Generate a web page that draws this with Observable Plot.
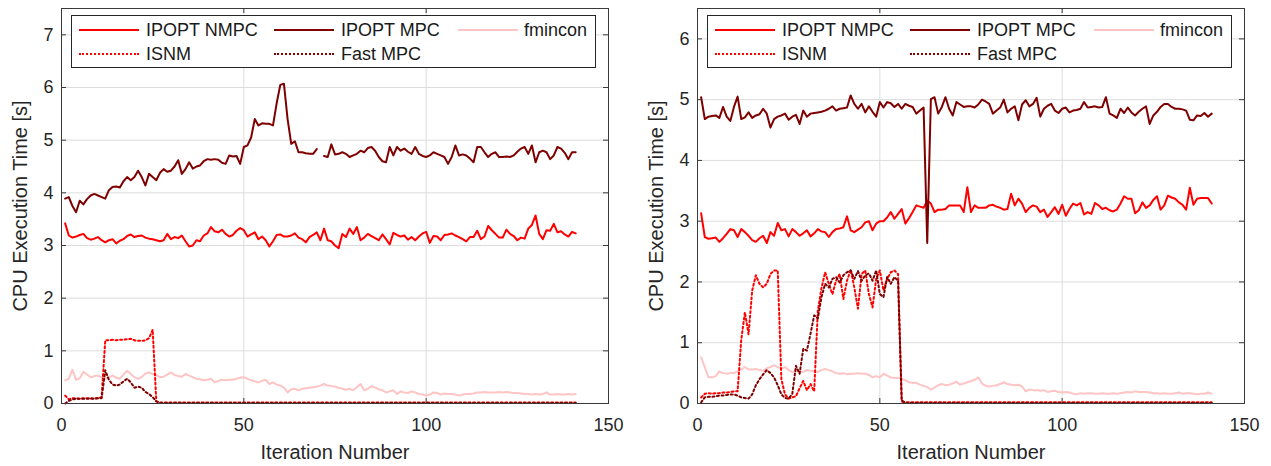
<!DOCTYPE html>
<html>
<head>
<meta charset="utf-8">
<script src="https://cdn.jsdelivr.net/npm/d3@7"></script>
<script src="https://cdn.jsdelivr.net/npm/@observablehq/plot@0.6"></script>
<style>
  body { margin: 0; background: #fff; }
  #wrap { display: flex; width: 1271px; height: 466px; }
  .panel { position: relative; height: 466px; }
  .legend { position: absolute; top: 15px; width: 525px; height: 53px; border: 1px solid #262626;
            background: #fff; box-sizing: border-box; font-family: "Liberation Sans", Arial, sans-serif;
            font-size: 18px; color: #1a1a1a; }
  .sample { position: absolute; width: 60px; height: 0; }
  .lgtext { position: absolute; line-height: 1; white-space: nowrap; transform: translateY(-50%); }
</style>
</head>
<body>
<div id="wrap"></div>
<script>
// ---------- data ----------
const seriesNames = ["IPOPT NMPC", "IPOPT MPC", "fmincon", "ISNM", "Fast MPC"];
const xTicks = [0, 50, 100, 150];
const yTicksLeft = [0, 1, 2, 3, 4, 5, 6, 7];
const yTicksRight = [0, 1, 2, 3, 4, 5, 6];
const xLabel = "Iteration Number";
const yLabel = "CPU Execution Time [s]";

const leftNMPC = [3.42,3.19,3.15,3.17,3.20,3.22,3.14,3.11,3.13,3.16,
 3.10,3.06,3.10,3.12,3.04,3.09,3.12,3.18,3.21,3.16,
 3.18,3.19,3.15,3.13,3.12,3.10,3.08,3.10,3.22,3.12,
 3.16,3.14,3.19,3.08,2.98,3.00,3.10,3.08,3.19,3.23,
 3.35,3.27,3.25,3.30,3.22,3.17,3.20,3.28,3.33,3.29,
 3.17,3.21,3.25,3.12,3.17,3.10,2.98,3.08,3.20,3.21,
 3.17,3.17,3.19,3.23,3.15,3.12,3.06,3.16,3.20,3.25,
 3.10,3.32,3.10,3.08,3.00,2.95,3.22,3.16,3.32,3.22,
 3.35,3.10,3.15,3.22,3.18,3.14,3.10,3.21,3.12,3.02,
 3.24,3.20,3.17,3.19,3.11,3.16,3.10,3.17,3.23,3.26,
 3.05,3.18,3.17,3.10,3.20,3.21,3.23,3.19,3.16,3.12,
 3.08,3.16,3.16,3.28,3.12,3.17,3.37,3.29,3.22,3.15,
 3.15,3.30,3.22,3.18,3.10,3.15,3.13,3.32,3.39,3.57,
 3.22,3.12,3.29,3.28,3.41,3.25,3.27,3.21,3.17,3.26,
 3.23];
const leftMPC = [3.89,3.92,3.75,3.63,3.85,3.78,3.88,3.95,3.98,3.95,
 3.92,3.89,4.05,4.11,4.12,4.10,4.22,4.30,4.24,4.30,
 4.42,4.30,4.14,4.36,4.30,4.24,4.38,4.45,4.40,4.42,
 4.50,4.62,4.36,4.45,4.58,4.46,4.50,4.52,4.60,4.64,
 4.63,4.64,4.63,4.57,4.55,4.71,4.69,4.70,4.55,4.87,
 4.90,5.05,5.40,5.28,5.32,5.31,5.31,5.28,5.70,6.05,
 6.07,5.40,4.93,4.98,4.77,4.77,4.75,4.74,4.74,4.83,
 null,4.70,4.68,4.92,4.73,4.74,4.77,4.74,4.68,4.71,
 4.74,4.80,4.77,4.85,4.87,4.80,4.68,4.60,4.58,4.87,
 4.71,4.87,4.80,4.84,4.78,4.74,4.87,4.74,4.70,4.68,
 4.71,4.77,4.74,4.71,4.68,4.55,4.68,4.90,4.71,4.73,
 4.71,4.65,4.58,4.87,4.87,4.77,4.68,4.74,4.77,4.68,
 4.68,4.69,4.68,4.71,4.78,4.84,4.87,4.74,4.90,4.58,
 4.77,4.80,4.77,4.64,4.71,4.87,4.84,4.76,4.64,4.77,
 4.77];
const leftFmincon = [0.44,0.47,0.64,0.45,0.48,0.60,0.55,0.50,0.52,0.53,
 0.50,0.47,0.50,0.53,0.49,0.47,0.55,0.62,0.56,0.50,
 0.47,0.50,0.57,0.59,0.56,0.54,0.50,0.51,0.55,0.59,
 0.54,0.52,0.51,0.56,0.53,0.50,0.47,0.46,0.44,0.45,
 0.47,0.40,0.43,0.45,0.44,0.45,0.45,0.47,0.49,0.50,
 0.47,0.44,0.42,0.40,0.43,0.45,0.37,0.40,0.36,0.34,
 0.30,0.21,0.27,0.28,0.25,0.28,0.29,0.30,0.31,0.32,
 0.34,0.37,0.34,0.33,0.32,0.30,0.28,0.26,0.28,0.25,
 0.31,0.37,0.25,0.28,0.33,0.30,0.27,0.25,0.21,0.23,
 0.25,0.18,0.23,0.21,0.20,0.23,0.21,0.18,0.17,0.15,
 0.17,0.21,0.20,0.17,0.19,0.18,0.18,0.17,0.15,0.17,
 0.18,0.18,0.19,0.21,0.21,0.22,0.21,0.21,0.21,0.22,
 0.21,0.22,0.21,0.20,0.20,0.19,0.18,0.18,0.17,0.18,
 0.17,0.18,0.21,0.17,0.17,0.18,0.17,0.17,0.18,0.17,
 0.18];
const leftISNM = [0.15,0.08,0.10,0.10,0.09,0.10,0.10,0.09,0.10,0.10,
 0.12,1.20,1.20,1.21,1.20,1.21,1.21,1.22,1.23,1.20,
 1.19,1.19,1.20,1.24,1.40,0.04,0.02,0.02,0.02,0.02,
 0.02,0.02,0.02,0.02,0.02,0.02,0.02,0.02,0.02,0.02,
 0.02,0.02,0.02,0.02,0.02,0.02,0.02,0.02,0.02,0.02,
 0.02,0.02,0.02,0.02,0.02,0.02,0.02,0.02,0.02,0.02,
 0.02,0.02,0.02,0.02,0.02,0.02,0.02,0.02,0.02,0.02,
 0.02,0.02,0.02,0.02,0.02,0.02,0.02,0.02,0.02,0.02,
 0.02,0.02,0.02,0.02,0.02,0.02,0.02,0.02,0.02,0.02,
 0.02,0.02,0.02,0.02,0.02,0.02,0.02,0.02,0.02,0.02,
 0.02,0.02,0.02,0.02,0.02,0.02,0.02,0.02,0.02,0.02,
 0.02,0.02,0.02,0.02,0.02,0.02,0.02,0.02,0.02,0.02,
 0.02,0.02,0.02,0.02,0.02,0.02,0.02,0.02,0.02,0.02,
 0.02,0.02,0.02,0.02,0.02,0.02,0.02,0.02,0.02,0.02,
 0.02];
const leftFastMPC = [0.00,0.05,0.08,0.09,0.09,0.09,0.09,0.10,0.09,0.10,
 0.10,0.63,0.45,0.36,0.34,0.36,0.42,0.47,0.40,0.30,
 0.32,0.30,0.22,0.18,0.12,0.04,0.01,0.01,0.01,0.01,
 0.01,0.01,0.01,0.01,0.01,0.01,0.01,0.01,0.01,0.01,
 0.01,0.01,0.01,0.01,0.01,0.01,0.01,0.01,0.01,0.01,
 0.01,0.01,0.01,0.01,0.01,0.01,0.01,0.01,0.01,0.01,
 0.01,0.01,0.01,0.01,0.01,0.01,0.01,0.01,0.01,0.01,
 0.01,0.01,0.01,0.01,0.01,0.01,0.01,0.01,0.01,0.01,
 0.01,0.01,0.01,0.01,0.01,0.01,0.01,0.01,0.01,0.01,
 0.01,0.01,0.01,0.01,0.01,0.01,0.01,0.01,0.01,0.01,
 0.01,0.01,0.01,0.01,0.01,0.01,0.01,0.01,0.01,0.01,
 0.01,0.01,0.01,0.01,0.01,0.01,0.01,0.01,0.01,0.01,
 0.01,0.01,0.01,0.01,0.01,0.01,0.01,0.01,0.01,0.01,
 0.01,0.01,0.01,0.01,0.01,0.01,0.01,0.01,0.01,0.01,
 0.01];

const rightNMPC = [3.13,2.74,2.71,2.72,2.73,2.66,2.72,2.79,2.87,2.85,
 2.74,2.87,2.82,2.76,2.69,2.66,2.72,2.76,2.64,2.82,
 2.76,2.97,2.85,2.87,2.75,2.87,2.82,2.76,2.80,2.85,
 2.75,2.80,2.87,2.83,2.82,2.74,2.82,2.87,2.88,2.90,
 3.08,2.85,2.82,2.86,2.90,2.98,3.00,2.85,2.96,3.00,
 3.00,3.06,3.15,3.04,3.12,3.20,2.96,3.05,3.15,3.26,
 3.24,3.22,3.34,3.29,3.15,3.19,3.19,3.20,3.26,3.26,
 3.26,3.26,3.15,3.56,3.15,3.26,3.22,3.22,3.22,3.26,
 3.27,3.24,3.22,3.19,3.20,3.45,3.26,3.37,3.29,3.15,
 3.22,3.26,3.24,3.15,3.19,3.07,3.15,3.23,3.12,3.27,
 3.09,3.20,3.29,3.26,3.30,3.11,3.15,3.12,3.30,3.26,
 3.20,3.22,3.18,3.16,3.19,3.29,3.41,3.37,3.37,3.13,
 3.18,3.31,3.22,3.26,3.35,3.41,3.19,3.26,3.42,3.39,
 3.37,3.31,3.27,3.19,3.55,3.27,3.37,3.38,3.38,3.38,
 3.29];
const rightMPC = [5.04,4.68,4.72,4.73,4.74,4.70,4.88,4.72,4.65,4.88,
 5.05,4.68,4.71,4.79,4.70,4.74,4.76,4.85,4.77,4.54,
 4.68,4.72,4.74,4.77,4.67,4.72,4.75,4.60,4.82,4.72,
 4.77,4.78,4.79,4.80,4.82,4.85,4.89,4.82,4.85,4.86,
 4.87,5.07,4.93,4.85,4.93,4.79,4.89,4.80,4.72,4.96,
 4.87,4.96,4.94,4.88,4.93,4.85,4.93,4.90,4.88,4.77,
 4.82,4.87,2.64,5.01,5.04,4.77,4.88,5.04,4.85,4.74,
 4.96,4.92,4.88,4.89,4.89,4.87,4.92,5.00,4.97,4.93,
 4.77,4.82,4.87,5.00,4.79,4.85,4.89,4.66,4.92,4.99,
 4.89,4.93,5.03,4.72,4.85,4.90,4.93,4.82,4.78,4.85,
 4.87,4.79,4.82,4.83,4.85,4.96,4.87,4.88,4.89,4.87,
 4.88,5.04,4.77,4.74,4.70,4.85,4.78,4.87,4.79,4.74,
 4.80,4.85,4.89,4.60,4.74,4.80,4.88,4.93,4.93,4.88,
 4.85,4.85,4.84,4.82,4.67,4.66,4.74,4.73,4.78,4.72,
 4.77];
const rightFmincon = [0.76,0.60,0.43,0.43,0.45,0.53,0.50,0.49,0.50,0.50,
 0.53,0.56,0.60,0.56,0.56,0.57,0.55,0.54,0.58,0.60,
 0.63,0.60,0.57,0.60,0.55,0.52,0.53,0.53,0.52,0.55,
 0.54,0.53,0.52,0.55,0.57,0.55,0.53,0.50,0.49,0.50,
 0.48,0.49,0.49,0.50,0.49,0.49,0.47,0.43,0.45,0.43,
 0.49,0.46,0.43,0.42,0.42,0.41,0.38,0.35,0.34,0.34,
 0.31,0.29,0.27,0.23,0.26,0.30,0.32,0.30,0.31,0.33,
 0.36,0.31,0.33,0.35,0.37,0.39,0.43,0.33,0.29,0.28,
 0.29,0.30,0.32,0.35,0.32,0.31,0.30,0.31,0.28,0.20,
 0.23,0.22,0.22,0.21,0.22,0.19,0.20,0.21,0.19,0.18,
 0.19,0.18,0.16,0.15,0.17,0.16,0.17,0.17,0.16,0.16,
 0.17,0.16,0.16,0.17,0.16,0.17,0.18,0.19,0.18,0.20,
 0.19,0.19,0.19,0.18,0.17,0.17,0.16,0.17,0.16,0.16,
 0.17,0.18,0.16,0.17,0.17,0.16,0.15,0.16,0.16,0.18,
 0.16];
const rightISNM = [0.10,0.16,0.17,0.16,0.17,0.17,0.18,0.18,0.19,0.20,
 0.20,1.05,1.50,1.14,1.86,2.11,1.97,1.91,1.97,2.13,
 2.19,2.19,0.40,0.15,0.08,0.10,0.12,0.25,0.37,0.22,
 0.32,0.20,1.53,1.90,2.16,1.97,1.80,2.02,2.13,1.72,
 2.02,2.20,1.91,1.56,2.13,2.19,1.80,1.58,2.05,2.19,
 1.86,2.05,2.16,2.19,2.13,0.03,0.02,0.02,0.02,0.02,
 0.02,0.02,0.02,0.02,0.02,0.02,0.02,0.02,0.02,0.02,
 0.02,0.02,0.02,0.02,0.02,0.02,0.02,0.02,0.02,0.02,
 0.02,0.02,0.02,0.02,0.02,0.02,0.02,0.02,0.02,0.02,
 0.02,0.02,0.02,0.02,0.02,0.02,0.02,0.02,0.02,0.02,
 0.02,0.02,0.02,0.02,0.02,0.02,0.02,0.02,0.02,0.02,
 0.02,0.02,0.02,0.02,0.02,0.02,0.02,0.02,0.02,0.02,
 0.02,0.02,0.02,0.02,0.02,0.02,0.02,0.02,0.02,0.02,
 0.02,0.02,0.02,0.02,0.02,0.02,0.02,0.02,0.02,0.02,
 0.02];
const rightFastMPC = [0.02,0.10,0.11,0.11,0.12,0.13,0.13,0.14,0.15,0.15,
 0.13,0.10,0.09,0.08,0.15,0.30,0.40,0.48,0.55,0.50,
 0.43,0.30,0.15,0.09,0.08,0.16,0.62,0.49,0.90,0.87,
 1.15,1.45,1.40,1.75,1.97,1.91,2.05,2.08,1.99,2.11,
 2.16,2.19,2.05,2.18,2.02,2.11,2.14,2.02,2.19,1.80,
 1.75,2.08,1.97,2.08,2.02,0.05,0.01,0.01,0.01,0.01,
 0.01,0.01,0.01,0.01,0.01,0.01,0.01,0.01,0.01,0.01,
 0.01,0.01,0.01,0.01,0.01,0.01,0.01,0.01,0.01,0.01,
 0.01,0.01,0.01,0.01,0.01,0.01,0.01,0.01,0.01,0.01,
 0.01,0.01,0.01,0.01,0.01,0.01,0.01,0.01,0.01,0.01,
 0.01,0.01,0.01,0.01,0.01,0.01,0.01,0.01,0.01,0.01,
 0.01,0.01,0.01,0.01,0.01,0.01,0.01,0.01,0.01,0.01,
 0.01,0.01,0.01,0.01,0.01,0.01,0.01,0.01,0.01,0.01,
 0.01,0.01,0.01,0.01,0.01,0.01,0.01,0.01,0.01,0.01,
 0.01];

// ---------- styles ----------
const seriesColors = ["#ff0000", "#7f0000", "#ffc4c4", "#ff0000", "#7f0000"];
const seriesDash = [null, null, null, "2,2.6", "2,2.6"];
const drawOrder = [2, 0, 1, 3, 4];
const legendCols = [0, 1, 2, 0, 1];
const legendRows = [0, 0, 0, 1, 1];
const FONT = '"Liberation Sans", Arial, Helvetica, sans-serif';

function makePanel(cfg) {
  const {width, marginLeft, yMax, yTicks, series} = cfg;
  const height = 466, marginTop = 8, marginBottom = 63, marginRight = 27;
  const plotW = width - marginLeft - marginRight;
  const plotH = height - marginTop - marginBottom;
  const iters = series[0].map((_, i) => i + 1);

  const lineMarks = drawOrder.map(k =>
    Plot.line(iters, {
      x: d => d,
      y: (d, i) => series[k][i],
      stroke: seriesColors[k],
      strokeWidth: 2,
      strokeDasharray: seriesDash[k] || undefined,
      strokeLinejoin: "round"
    })
  );

  const svg = Plot.plot({
    width, height, marginLeft, marginRight, marginTop, marginBottom,
    style: {fontFamily: FONT, fontSize: "18px", color: "#262626", background: "#fff"},
    x: {domain: [0, 150]},
    y: {domain: [0, yMax]},
    marks: [
      Plot.gridX(xTicks, {stroke: "#dddddd", strokeOpacity: 1}),
      Plot.gridY(yTicks, {stroke: "#dddddd", strokeOpacity: 1}),
      ...lineMarks,
      Plot.frame({stroke: "#3a3a3a", strokeWidth: 1}),
      Plot.ruleX(xTicks, {x: d => d, insetTop: plotH - 5, stroke: "#3a3a3a"}),
      Plot.ruleX(xTicks, {x: d => d, insetBottom: plotH - 5, stroke: "#3a3a3a"}),
      Plot.ruleY(yTicks, {y: d => d, insetRight: plotW - 5, stroke: "#3a3a3a"}),
      Plot.ruleY(yTicks, {y: d => d, insetLeft: plotW - 5, stroke: "#3a3a3a"}),
      Plot.axisX({ticks: xTicks, anchor: "bottom", tickSize: 0, tickPadding: 15, label: null, fontSize: 18, tickFormat: d => String(d)}),
      Plot.axisY({ticks: yTicks, anchor: "left", tickSize: 0, tickPadding: 8, label: null, fontSize: 18, tickFormat: d => String(d)}),
      Plot.text([xLabel], {text: d => d, frameAnchor: "bottom", dy: 49, lineAnchor: "middle", fontSize: 20, fill: "#262626"}),
      Plot.text([yLabel], {text: d => d, frameAnchor: "left", dx: -41, rotate: -90, lineAnchor: "middle", textAnchor: "middle", fontSize: 20, fill: "#262626"})
    ]
  });

  const panel = document.createElement("div");
  panel.className = "panel";
  panel.style.width = width + "px";
  panel.appendChild(svg);

  const legend = document.createElement("div");
  legend.className = "legend";
  legend.style.left = (marginLeft + 10) + "px";
  const sampleX = [7, 202, 386], textX = [74, 269, 452], rowY = [14, 38];
  seriesNames.forEach((name, k) => {
    const s = document.createElement("div");
    s.className = "sample";
    s.style.left = sampleX[legendCols[k]] + "px";
    s.style.top = (rowY[legendRows[k]] - 1) + "px";
    s.style.borderTop = "2px " + (seriesDash[k] ? "dotted " : "solid ") + seriesColors[k];
    legend.appendChild(s);
    const t = document.createElement("div");
    t.className = "lgtext";
    t.style.left = textX[legendCols[k]] + "px";
    t.style.top = rowY[legendRows[k]] + "px";
    t.textContent = name;
    legend.appendChild(t);
  });
  panel.appendChild(legend);
  return panel;
}

const wrap = document.getElementById("wrap");
wrap.appendChild(makePanel({width: 635, marginLeft: 61, yMax: 7.5, yTicks: yTicksLeft,
  series: [leftNMPC, leftMPC, leftFmincon, leftISNM, leftFastMPC]}));
wrap.appendChild(makePanel({width: 636, marginLeft: 62, yMax: 6.5, yTicks: yTicksRight,
  series: [rightNMPC, rightMPC, rightFmincon, rightISNM, rightFastMPC]}));
</script>
</body>
</html>
